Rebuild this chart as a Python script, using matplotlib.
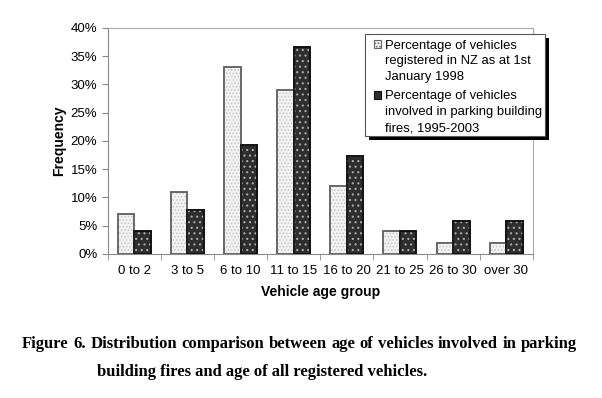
import numpy as np
import matplotlib.pyplot as plt
from matplotlib.patches import Rectangle
from matplotlib.ticker import FixedLocator, PercentFormatter

groups = ['0 to 2', '3 to 5', '6 to 10', '11 to 15', '16 to 20', '21 to 25', '26 to 30', 'over 30']
registered = [7.0, 11.0, 33.0, 29.0, 12.0, 4.0, 2.0, 2.0]
fires = [4.0, 7.7, 19.2, 36.7, 17.3, 4.0, 5.8, 5.8]
yticks = [0, 5, 10, 15, 20, 25, 30, 35, 40]
lab_reg = ['Percentage of vehicles', 'registered in NZ as at 1st', 'January 1998']
lab_fire = ['Percentage of vehicles', 'involved in parking building', 'fires, 1995-2003']
caption1 = 'Figure 6. Distribution comparison between age of vehicles involved in parking'
caption2 = 'building fires and age of all registered vehicles.'

plt.rcParams['font.family'] = ['Liberation Sans', 'DejaVu Sans']
plt.rcParams['hatch.linewidth'] = 0.8

W, H = 602, 398
fig = plt.figure(figsize=(W / 100, H / 100), dpi=100)
ax = fig.add_axes([0.179, 0.362, 0.706, 0.568])

def px(xp, yp):
    # pixel position (from top-left) -> figure fraction
    return xp / W, 1 - yp / H

x = np.arange(len(groups))
w = 0.31

# registered: light bars with fine grey dots
ax.bar(x - w / 2, registered, w, color='#f4f4f4', edgecolor='#666666', linewidth=1.2, zorder=2)
ax.bar(x - w / 2, registered, w, color='none', edgecolor='#c8c8c8', hatch='.....', linewidth=0, zorder=3)
ax.bar(x - w / 2, registered, w, color='none', edgecolor='#666666', linewidth=1.2, zorder=4)
# fires: dark bars with white dots
ax.bar(x + w / 2, fires, w, color='#2e2e2e', edgecolor='#111111', linewidth=1.2, zorder=2)
ax.bar(x + w / 2, fires, w, color='none', edgecolor='#aaaaaa', hatch='...', linewidth=0, zorder=3)
ax.bar(x + w / 2, fires, w, color='none', edgecolor='#111111', linewidth=1.2, zorder=4)

ax.set_xlim(-0.5, len(groups) - 0.5)
ax.set_ylim(0, 40)
ax.set_yticks(yticks)
ax.yaxis.set_major_formatter(PercentFormatter(decimals=0))
ax.set_xticks(x)
ax.set_xticklabels(groups)
ax.xaxis.set_minor_locator(FixedLocator(np.arange(-0.5, len(groups), 1.0)))
ax.tick_params(axis='x', which='major', length=0, labelsize=9.5, pad=8)
ax.tick_params(axis='x', which='minor', length=4, color='#888888')
ax.tick_params(axis='y', length=4, color='#888888', labelsize=9.5)

for s in ['top', 'right']:
    ax.spines[s].set_color('#aaaaaa')
ax.spines['bottom'].set_color('#888888')
ax.spines['left'].set_color('#888888')

ax.set_ylabel('Frequency', fontsize=10, fontweight='bold', labelpad=3)
ax.set_xlabel('Vehicle age group', fontsize=10, fontweight='bold', labelpad=6)

# legend drawn by hand, with a hard black shadow
lx0, ly0, lx1, ly1 = 365, 34, 545, 136
fx, fy = px(lx0, ly1)
bw, bh = (lx1 - lx0) / W, (ly1 - ly0) / H
fig.add_artist(Rectangle((fx + 4 / W, fy - 4 / H), bw, bh, transform=fig.transFigure,
                         facecolor='black', edgecolor='none', zorder=10))
fig.add_artist(Rectangle((fx, fy), bw, bh, transform=fig.transFigure,
                         facecolor='white', edgecolor='#555555', linewidth=0.8, zorder=11))
entries = [(lab_reg, 44, '#f4f4f4', '#666666', '.....'), (lab_fire, 95, '#2e2e2e', '#111111', None)]
for lines, yc, fc, ec, hatch in entries:
    hx, hy = px(374, yc + 3.5)
    fig.add_artist(Rectangle((hx, hy), 7 / W, 7 / H, transform=fig.transFigure,
                             facecolor=fc, edgecolor=ec, hatch=hatch, linewidth=0.8, zorder=12))
    for i, line in enumerate(lines):
        tx, ty = px(385, yc + 4.5 + i * 15.8)
        fig.text(tx, ty, line, fontsize=9.4, va='baseline', ha='left', zorder=12)

# caption, first line justified
fig.canvas.draw()
r = fig.canvas.get_renderer()
cap_kw = dict(fontsize=12, fontweight='bold', family='Liberation Serif', va='baseline')
words = caption1.split()
x0, x1 = 22 / W, 577 / W
ybase = 1 - 348 / H
ts = [fig.text(0, ybase, wd, **cap_kw) for wd in words]
widths = [t.get_window_extent(r).width / fig.bbox.width for t in ts]
gap = (x1 - x0 - sum(widths)) / (len(words) - 1)
pos = x0
for t, wd in zip(ts, widths):
    t.set_x(pos)
    pos += wd + gap
fig.text(97 / W, 1 - 376 / H, caption2, **cap_kw)

fig.savefig('out.png', dpi=100)
